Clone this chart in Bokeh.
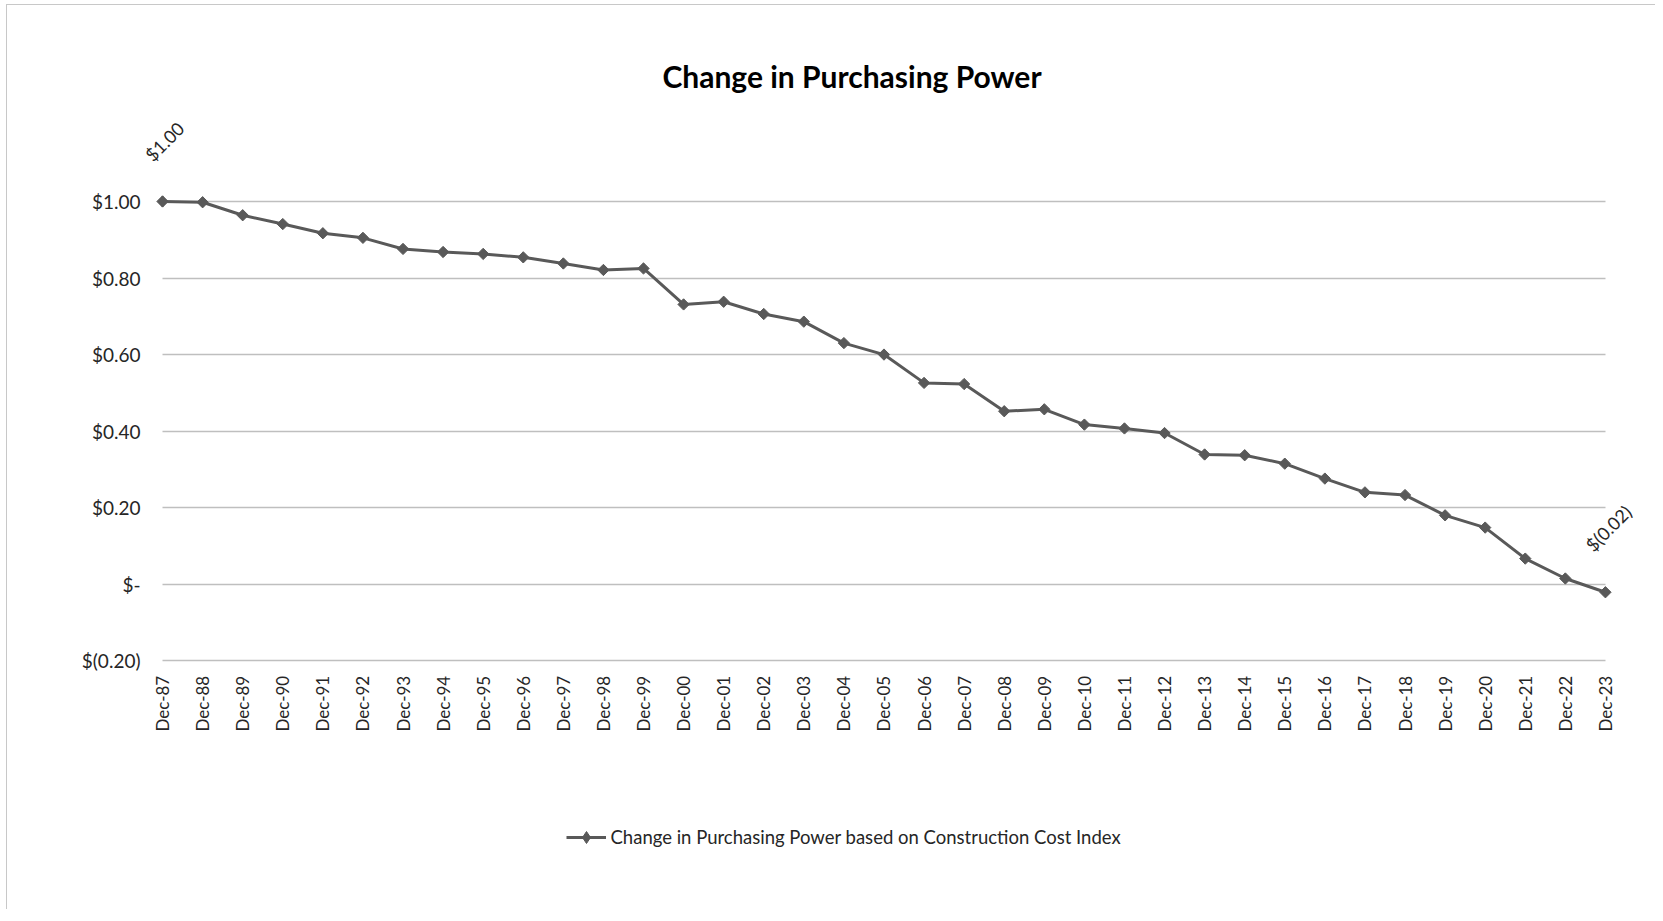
import math
from bokeh.plotting import figure
from bokeh.models import Range1d, FixedTicker, Label, Legend, LegendItem
from bokeh.embed import file_html
from bokeh.resources import INLINE

# ---------------- data ----------------
periods = ["Dec-87", "Dec-88", "Dec-89", "Dec-90", "Dec-91", "Dec-92", "Dec-93", "Dec-94",
           "Dec-95", "Dec-96", "Dec-97", "Dec-98", "Dec-99", "Dec-00", "Dec-01", "Dec-02",
           "Dec-03", "Dec-04", "Dec-05", "Dec-06", "Dec-07", "Dec-08", "Dec-09", "Dec-10",
           "Dec-11", "Dec-12", "Dec-13", "Dec-14", "Dec-15", "Dec-16", "Dec-17", "Dec-18",
           "Dec-19", "Dec-20", "Dec-21", "Dec-22", "Dec-23"]
purchasing_power = [1.000, 0.998, 0.964, 0.941, 0.917, 0.905, 0.876, 0.868,
                    0.863, 0.854, 0.838, 0.821, 0.825, 0.731, 0.738, 0.706,
                    0.686, 0.630, 0.600, 0.526, 0.523, 0.452, 0.457, 0.417,
                    0.407, 0.395, 0.339, 0.337, 0.315, 0.276, 0.240, 0.233,
                    0.180, 0.148, 0.067, 0.015, -0.021]
y_ticks = [-0.2, 0.0, 0.2, 0.4, 0.6, 0.8, 1.0]
title_text = "Change in Purchasing Power"
series_name = "Change in Purchasing Power based on Construction Cost Index"


def money(v):
    if abs(v) < 0.005:
        return "$-"
    if v < 0:
        return "$(%.2f)" % abs(v)
    return "$%.2f" % v


FONT = "Lato"
TXT = "#262626"
LINE = "#595959"
GRID = "#bfbfbf"

xs = list(range(len(periods)))
n = len(periods)

p = figure(width=1649, height=905, output_backend="svg", toolbar_location=None,
           x_range=Range1d(-0.5, n), y_range=Range1d(-0.8263, 1.431),
           min_border_left=135, min_border_right=11, min_border_top=31, min_border_bottom=10)
p.styles = {"margin-left": "6px", "margin-top": "4px",
            "border-left": "1.5px solid #c8c8c8", "border-top": "1.5px solid #c8c8c8"}
p.outline_line_color = None
p.background_fill_color = "white"
p.border_fill_color = "white"

p.xgrid.visible = False
p.ygrid.ticker = FixedTicker(ticks=y_ticks)
p.ygrid.grid_line_color = GRID
p.ygrid.grid_line_width = 1.4
try:
    p.ygrid.cross_bounds = (0, n - 1)
except Exception:
    pass

xa = p.xaxis[0]
xa.fixed_location = min(y_ticks)
xa.ticker = FixedTicker(ticks=xs)
xa.major_label_overrides = {i: lab for i, lab in zip(xs, periods)}
xa.major_label_orientation = math.pi / 2
xa.axis_line_color = None
xa.major_tick_line_color = None
xa.minor_tick_line_color = None
xa.major_tick_out = 0
xa.major_label_standoff = 15
xa.major_label_text_font = FONT
xa.major_label_text_font_size = "17px"
xa.major_label_text_color = TXT

ya = p.yaxis[0]
ya.ticker = FixedTicker(ticks=y_ticks)
ya.major_label_overrides = {t: money(t) for t in y_ticks}
ya.axis_line_color = None
ya.major_tick_line_color = None
ya.minor_tick_line_color = None
ya.major_tick_out = 0
ya.major_label_standoff = 2
ya.major_label_text_font = FONT
ya.major_label_text_font_size = "19px"
ya.major_label_text_color = TXT

ln = p.line(xs, purchasing_power, line_color=LINE, line_width=3)
# diamond glyph that supplies the legend swatch (sits hidden under the first marker)
lg_mk = p.scatter(xs[:1], purchasing_power[:1], marker="diamond", size=11,
                  fill_color=LINE, line_color=LINE)
mk = p.scatter(xs, purchasing_power, marker="square", angle=math.pi / 4, size=8,
               fill_color=LINE, line_color=LINE)

# data labels for first and last points
for idx, dx, dy in ((0, 2, 60), (n - 1, 3, 64)):
    p.add_layout(Label(x=xs[idx], y=purchasing_power[idx], text=money(purchasing_power[idx]),
                       x_offset=dx, y_offset=dy, angle=45, angle_units="deg",
                       text_align="center", text_baseline="middle",
                       text_font=FONT, text_font_size="18px", text_color=TXT))

# title (screen units, relative to the plot frame)
p.add_layout(Label(x=709.5, y=824.5, x_units="screen", y_units="screen", text=title_text,
                   text_align="center", text_baseline="middle", text_font=FONT,
                   text_font_style="bold", text_font_size="30px", text_color="#000000"))

legend = Legend(items=[LegendItem(label=series_name, renderers=[ln, lg_mk])],
                location=(423.5, 48.5), orientation="horizontal",
                glyph_width=40, glyph_height=30, label_standoff=5, padding=0, margin=0,
                border_line_color=None, background_fill_alpha=0,
                label_text_font=FONT, label_text_font_size="18.5px", label_text_color=TXT)
p.add_layout(legend, "center")

open("out.html", "w").write(file_html(p, INLINE))
